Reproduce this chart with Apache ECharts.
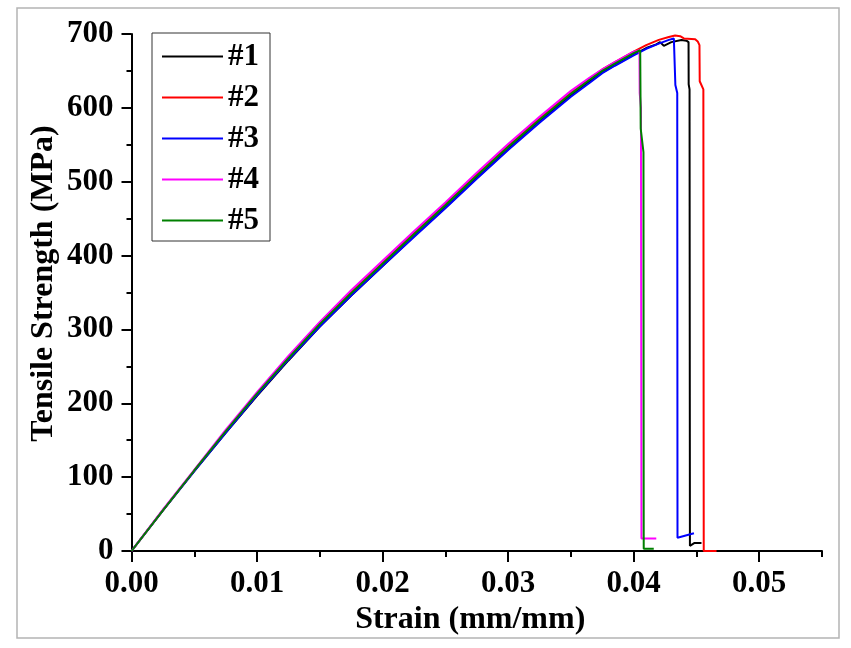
<!DOCTYPE html>
<html>
<head>
<meta charset="utf-8">
<script src="https://cdn.jsdelivr.net/npm/echarts@6/dist/echarts.min.js"></script>
<style>
  html, body { margin: 0; padding: 0; background: #fff; }
  #chart { width: 851px; height: 648px; }
</style>
</head>
<body>
<div id="chart"></div>
<script>
// ---- data ----
const seriesNames = ['#1', '#2', '#3', '#4', '#5'];
const seriesColors = ['#000000', '#ff0000', '#0000ff', '#ff00ff', '#008000'];

const baseStrain = [0, 0.0025, 0.005, 0.0075, 0.01, 0.0125, 0.015, 0.0175, 0.02, 0.0225, 0.025, 0.0275, 0.03, 0.0325, 0.035, 0.0365, 0.0375, 0.0385, 0.04];

const strain1 = baseStrain.concat([0.041, 0.0418, 0.0421, 0.0424, 0.043, 0.0438, 0.0442, 0.04437, 0.04438, 0.04445, 0.04448, 0.04485, 0.0454]);
const stress1 = [0, 55, 108, 160, 210, 258, 304, 346, 386, 426, 465, 505, 544, 582, 617, 636, 648, 658, 672,
                 681, 686, 689, 684, 689, 692, 691, 689, 632, 625, 7, 11, 11];

const strain2 = baseStrain.concat([0.041, 0.042, 0.0428, 0.0433, 0.0437, 0.044, 0.0449, 0.0451, 0.04524, 0.04526, 0.04555, 0.04558, 0.0466]);
const stress2 = [0, 55, 109, 162, 213, 262, 308, 351, 391, 431, 470, 510, 549, 586, 621, 640, 652, 662, 676,
                 685, 692, 696, 698, 697, 694, 693, 690, 685, 636, 625, 0, 0];

const strain3 = baseStrain.concat([0.041, 0.042, 0.0428, 0.0432, 0.0433, 0.04332, 0.04347, 0.04349, 0.0448]);
const stress3 = [0, 55, 108, 160, 211, 259, 304, 346, 386, 425, 464, 504, 543, 580, 615, 634, 647, 657, 671,
                 680, 687, 692, 694, 693, 631, 620, 18, 24];

const strain4 = baseStrain.concat([0.04046, 0.04048, 0.04058, 0.04062, 0.0418]);
const stress4 = [0, 56, 110, 164, 215, 264, 310, 353, 393, 433, 472, 512, 551, 588, 623, 641, 652, 662, 676,
                 678, 620, 600, 17, 17];

const strain5 = baseStrain.concat([0.04052, 0.04056, 0.04078, 0.0408, 0.0416]);
const stress5 = [0, 55, 109, 162, 213, 261, 307, 349, 389, 429, 468, 508, 547, 584, 619, 638, 650, 660, 674,
                 678, 572, 540, 3, 3];

const xMajorTicks = [0, 0.01, 0.02, 0.03, 0.04, 0.05];
const xMinorTicks = [0.005, 0.015, 0.025, 0.035, 0.045, 0.055];

const strains = [strain1, strain2, strain3, strain4, strain5];
const stresses = [stress1, stress2, stress3, stress4, stress5];

// ---- chart ----
const FONT = '"Liberation Serif", "Times New Roman", serif';
const chart = echarts.init(document.getElementById('chart'), null, { renderer: 'canvas' });

const series = seriesNames.map((name, i) => ({
  name: name,
  type: 'line',
  xAxisIndex: 0,
  yAxisIndex: 0,
  symbol: 'none',
  showSymbol: false,
  smooth: false,
  lineStyle: { color: seriesColors[i], width: 2 },
  itemStyle: { color: seriesColors[i] },
  data: strains[i].map((x, k) => [x, stresses[i][k]])
}));

chart.setOption({
  animation: false,
  backgroundColor: '#ffffff',
  graphic: [{
    type: 'rect',
    shape: { x: 17, y: 8, width: 822, height: 630 },
    style: { fill: 'none', stroke: '#b4b4b4', lineWidth: 1.5 },
    z: -10, silent: true
  }],
  grid: { left: 131.5, right: 29, top: 34, bottom: 97, containLabel: false },
  legend: {
    orient: 'vertical',
    left: 152, top: 33,
    data: seriesNames,
    icon: 'rect',
    itemWidth: 61, itemHeight: 2, itemGap: 10,
    padding: [8, 11, 5, 10],
    borderColor: '#333333', borderWidth: 1,
    backgroundColor: '#ffffff',
    textStyle: { fontFamily: FONT, fontWeight: 'bold', fontSize: 31, color: '#000', lineHeight: 30 }
  },
  xAxis: [{
    type: 'value', position: 'bottom',
    min: 0, max: 0.055,
    name: 'Strain (mm/mm)', nameLocation: 'middle', nameGap: 53,
    nameTextStyle: { fontFamily: FONT, fontWeight: 'bold', fontSize: 32, color: '#000', padding: [0, 13, 0, 0] },
    splitLine: { show: false },
    axisLine: { show: true, lineStyle: { color: '#000', width: 2 } },
    axisTick: { show: true, inside: false, length: 11, lineStyle: { color: '#000', width: 2 }, customValues: xMajorTicks },
    axisLabel: { show: true, margin: 17, customValues: xMajorTicks, formatter: v => v.toFixed(2),
      fontFamily: FONT, fontWeight: 'bold', fontSize: 31, color: '#000' }
  }, {
    type: 'value', position: 'bottom',
    min: 0, max: 0.055,
    splitLine: { show: false },
    axisLine: { show: false },
    axisTick: { show: true, inside: false, length: 6, lineStyle: { color: '#000', width: 2 }, customValues: xMinorTicks },
    axisLabel: { show: false }
  }],
  yAxis: [{
    type: 'value', position: 'left',
    min: 0, max: 700, interval: 100,
    name: 'Tensile Strength (MPa)', nameLocation: 'middle', nameGap: 72,
    nameMoveOverlap: false,
    nameTextStyle: { fontFamily: FONT, fontWeight: 'bold', fontSize: 32, color: '#000', padding: [0, 0, 0, 18] },
    splitLine: { show: false },
    axisLine: { show: true, lineStyle: { color: '#000', width: 2 } },
    axisTick: { show: true, inside: false, length: 10, lineStyle: { color: '#000', width: 2 } },
    minorTick: { show: true, splitNumber: 2, length: 5, lineStyle: { color: '#000', width: 2 } },
    minorSplitLine: { show: false },
    axisLabel: { margin: 18, fontFamily: FONT, fontWeight: 'bold', fontSize: 31, color: '#000' }
  }],
  series: series
});
</script>
</body>
</html>
